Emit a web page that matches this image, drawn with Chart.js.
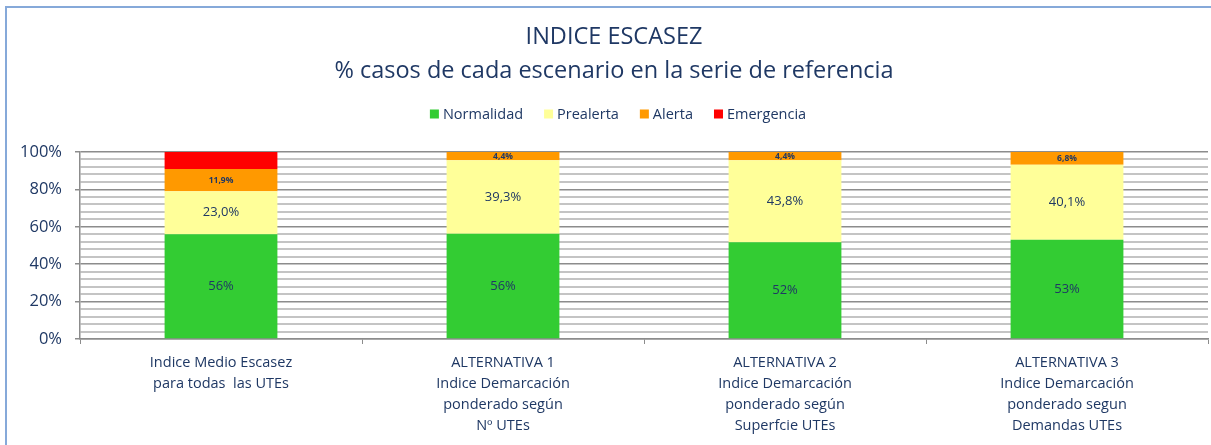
<!DOCTYPE html>
<html>
<head>
<meta charset="utf-8">
<script src="https://cdn.jsdelivr.net/npm/chart.js@4/dist/chart.umd.min.js"></script>
<style>
  html, body { margin: 0; padding: 0; background: #fff; overflow: hidden; }
  #marco { position: absolute; left: 5px; top: 6px; width: 1300px; height: 500px;
           border-left: 2px solid #86a9d9; border-top: 2px solid #86a9d9; }
  #grafico { position: absolute; left: 0; top: 0; }
</style>
</head>
<body>
<div id="marco"></div>
<canvas id="grafico" width="1211" height="445"></canvas>
<script>
// categorias del eje X
const categorias = [
    ['Indice Medio Escasez', 'para todas  las UTEs'],
    ['ALTERNATIVA 1', 'Indice Demarcación', 'ponderado según', 'Nº UTEs'],
    ['ALTERNATIVA 2', 'Indice Demarcación', 'ponderado según', 'Superfcie UTEs'],
    ['ALTERNATIVA 3', 'Indice Demarcación', 'ponderado segun', 'Demandas UTEs']
];

// % de casos por escenario
const normalidad = [56.0, 56.3, 51.8, 53.1];
const prealerta  = [23.0, 39.3, 43.8, 40.1];
const alerta     = [11.9, 4.4, 4.4, 6.8];
const emergencia = [9.1, 0, 0, 0];

const tituloLineas = ['INDICE ESCASEZ', '% casos de cada escenario en la serie de referencia'];
const fuente = '"Open Sans", "Liberation Sans", sans-serif';
const azulTexto = '#1f3864';

// etiquetas dentro de las barras
const etiquetasBarras = {
    id: 'etiquetasBarras',
    afterDatasetsDraw(chart) {
        const ctx = chart.ctx;
        ctx.save();
        ctx.textAlign = 'center';
        ctx.textBaseline = 'middle';
        ctx.fillStyle = azulTexto;
        chart.data.datasets.forEach((ds, i) => {
            if (ds.label === 'Emergencia') return;
            const meta = chart.getDatasetMeta(i);
            meta.data.forEach((bar, j) => {
                const v = ds.data[j];
                if (!v) return;
                let txt, size = 13, weight = 'normal';
                if (ds.label === 'Normalidad') {
                    txt = Math.round(v) + '%';
                } else {
                    txt = v.toFixed(1).replace('.', ',') + '%';
                    if (ds.label === 'Alerta') { size = 8.5; weight = 'bold'; }
                }
                ctx.font = weight + ' ' + size + 'px ' + fuente;
                ctx.fillText(txt, bar.x, (bar.y + bar.base) / 2);
            });
        });
        ctx.restore();
    }
};

// titulo y leyenda dibujados a mano
const tituloLeyenda = {
    id: 'tituloLeyenda',
    afterDraw(chart) {
        const ctx = chart.ctx;
        const cx = 614;
        ctx.save();
        ctx.fillStyle = azulTexto;
        ctx.textAlign = 'center';
        ctx.textBaseline = 'middle';
        ctx.font = '23.5px ' + fuente;
        ctx.fillText(tituloLineas[0], cx, 37);
        ctx.fillText(tituloLineas[1], cx, 71);

        // leyenda
        ctx.font = '14.5px ' + fuente;
        const caja = 9, hueco = 4, sep = 21;
        const items = chart.data.datasets.map(ds => ({ label: ds.label, color: ds.backgroundColor }));
        let total = 0;
        items.forEach((it, i) => {
            it.w = caja + hueco + ctx.measureText(it.label).width;
            total += it.w + (i > 0 ? sep : 0);
        });
        let x = 618 - total / 2;
        const y = 114;
        ctx.textAlign = 'left';
        items.forEach(it => {
            ctx.fillStyle = it.color;
            ctx.fillRect(x, y - caja / 2, caja, caja);
            ctx.fillStyle = azulTexto;
            ctx.fillText(it.label, x + caja + hueco, y + 1);
            x += it.w + sep;
        });
        ctx.restore();
    }
};

const ctx = document.getElementById('grafico').getContext('2d');
new Chart(ctx, {
    type: 'bar',
    data: {
        labels: categorias,
        datasets: [
            { label: 'Normalidad', data: normalidad, backgroundColor: '#33cc33' },
            { label: 'Prealerta', data: prealerta, backgroundColor: '#ffff99' },
            { label: 'Alerta', data: alerta, backgroundColor: '#ff9900' },
            { label: 'Emergencia', data: emergencia, backgroundColor: '#ff0000' }
        ]
    },
    options: {
        responsive: false,
        animation: false,
        layout: { padding: { top: 152, right: 3, left: 0, bottom: 0 } },
        datasets: { bar: { barPercentage: 0.4, categoryPercentage: 1.0 } },
        plugins: {
            legend: { display: false },
            title: { display: false },
            tooltip: { enabled: false }
        },
        scales: {
            x: {
                stacked: true,
                afterFit: s => { s.height = 106; },
                grid: { offset: true, drawOnChartArea: false, drawTicks: true, tickLength: 5, color: '#8c8c8c' },
                border: { color: '#8c8c8c', width: 1.5 },
                ticks: {
                    color: azulTexto,
                    padding: 8,
                    maxRotation: 0,
                    autoSkip: false,
                    font: { family: fuente, size: 14.5, lineHeight: 1.45 }
                }
            },
            y: {
                stacked: true,
                min: 0,
                max: 100,
                afterFit: s => { s.width = 80; },
                grid: {
                    color: c => (c.tick && c.tick.value % 20 === 0) ? '#8c8c8c' : '#c4c4c4',
                    lineWidth: c => (c.tick && c.tick.value % 20 === 0) ? 1.5 : 2,
                    tickColor: c => (c.tick && c.tick.value % 20 === 0) ? '#8c8c8c' : 'rgba(0,0,0,0)',
                    tickLength: 5
                },
                border: { color: '#8c8c8c', width: 1.5 },
                ticks: {
                    stepSize: 4,
                    autoSkip: false,
                    padding: 13,
                    color: azulTexto,
                    font: { family: fuente, size: 16.5 },
                    callback: v => (v % 20 === 0) ? v + '%' : ''
                }
            }
        }
    },
    plugins: [etiquetasBarras, tituloLeyenda]
});
</script>
</body>
</html>
